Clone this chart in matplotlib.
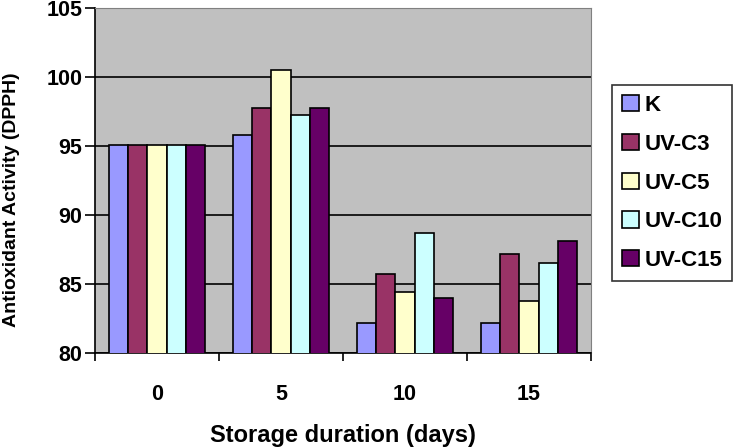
import numpy as np
import matplotlib
matplotlib.use('Agg')
import matplotlib.pyplot as plt

plt.rcParams['font.family'] = ['Liberation Sans', 'DejaVu Sans']

days = ['0', '5', '10', '15']
series = ['K', 'UV-C3', 'UV-C5', 'UV-C10', 'UV-C15']
k = [95.1, 95.8, 82.2, 82.2]
uv_c3 = [95.1, 97.75, 85.7, 87.2]
uv_c5 = [95.1, 100.5, 84.4, 83.8]
uv_c10 = [95.1, 97.25, 88.7, 86.5]
uv_c15 = [95.1, 97.75, 84.0, 88.1]
colors = ['#9999FF', '#993366', '#FFFFCC', '#CCFFFF', '#660066']

values = [k, uv_c3, uv_c5, uv_c10, uv_c15]

fig = plt.figure(figsize=(7.46, 4.48), dpi=100)
ax = fig.add_axes([95 / 746, 1 - 353 / 448, 496 / 746, 345 / 448])
ax.set_facecolor('#C0C0C0')

x = np.arange(len(days))
w = 0.154
for i, (name, vals, c) in enumerate(zip(series, values, colors)):
    ax.bar(x + (i - 2) * w, vals, w, bottom=0, color=c, edgecolor='black',
           linewidth=1.2, label=name, zorder=3)

ax.set_ylim(80, 105)
ax.set_xlim(-0.5, len(days) - 0.5)
ax.set_yticks(np.arange(80, 106, 5))
ax.yaxis.grid(True, color='black', linewidth=1.2, zorder=1)
ax.set_axisbelow(True)

ax.set_xticks(x)
ax.set_xticklabels(days, fontsize=15.5, fontweight='bold')
ax.tick_params(axis='x', length=0, pad=22)
ax.set_xticks(np.arange(-0.5, len(days), 1), minor=True)
ax.tick_params(axis='x', which='minor', length=6, width=1.2, direction='out')
ax.tick_params(axis='y', length=7, width=1.2, direction='out', labelsize=15.5, pad=2)
for lbl in ax.get_yticklabels():
    lbl.set_fontweight('bold')

for s in ['top', 'right']:
    ax.spines[s].set_color('#808080')
for s in ['left', 'bottom']:
    ax.spines[s].set_linewidth(1.2)

ax.set_xlabel('Storage duration (days)', fontsize=17, fontweight='bold', labelpad=14)
ax.set_ylabel('Antioxidant Activity (DPPH)', fontsize=14, fontweight='bold')
ax.yaxis.set_label_coords(-0.152, 0.443)

leg = ax.legend(loc='upper left', bbox_to_anchor=(612 / 746, 1 - 85 / 448),
                bbox_transform=fig.transFigure, borderaxespad=0,
                frameon=True, fancybox=False,
                edgecolor='black', handlelength=0.75, handleheight=0.75,
                handletextpad=0.25, labelspacing=0.8, borderpad=0.45,
                prop={'weight': 'bold', 'size': 16})
leg.get_frame().set_linewidth(1.2)

fig.savefig('out.png', dpi=100)
